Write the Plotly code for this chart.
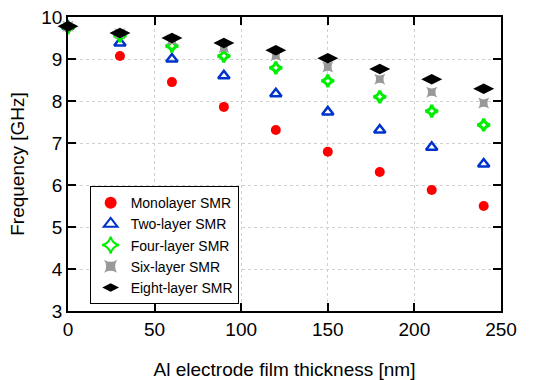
import plotly.graph_objects as go

thickness = [0, 30, 60, 90, 120, 150, 180, 210, 240]
mono = [9.75, 9.07, 8.45, 7.86, 7.31, 6.79, 6.31, 5.88, 5.50]
two = [9.78, 9.38, 9.00, 8.60, 8.17, 7.74, 7.31, 6.90, 6.50]
four = [9.75, 9.55, 9.31, 9.07, 8.79, 8.48, 8.10, 7.76, 7.43]
six = [9.78, 9.60, 9.45, 9.27, 9.08, 8.81, 8.52, 8.21, 7.95]
eight = [9.78, 9.62, 9.50, 9.38, 9.21, 9.02, 8.76, 8.52, 8.29]

series = [
    ("Monolayer SMR", mono, dict(symbol="circle", color="#ff0000", size=10, line=dict(width=0))),
    ("Two-layer SMR", two, dict(symbol="triangle-up-open", color="#0033cc", size=10, line=dict(width=2.5, color="#0033cc"))),
    ("Four-layer SMR", four, dict(symbol="star-diamond-open", color="#00ee00", size=9, line=dict(width=3, color="#00ee00"))),
    ("Six-layer SMR", six, dict(symbol="star-square", color="#999999", size=10, line=dict(width=0))),
    ("Eight-layer SMR", eight, dict(symbol="diamond-wide", color="#000000", size=15, line=dict(width=0))),
]

fig = go.Figure()
for name, vals, mk in series:
    fig.add_trace(go.Scatter(x=thickness, y=vals, mode="markers", name=name,
                             marker=mk, cliponaxis=False))

font = "Liberation Sans, Arial, sans-serif"
axis_common = dict(showline=True, linecolor="black", linewidth=1.5, mirror="ticks",
                   ticks="inside", ticklen=8, tickcolor="black", tickwidth=1.5,
                   showgrid=True, gridcolor="#d0d0d0", griddash="dot", gridwidth=1,
                   zeroline=False, automargin=False,
                   tickfont=dict(size=19, color="black", family=font))
fig.update_xaxes(range=[0, 250], dtick=50,
                 title=dict(text="Al electrode film thickness [nm]", font=dict(size=19, family=font, color="black"), standoff=24),
                 **axis_common)
fig.update_yaxes(range=[3, 10], dtick=1,
                 title=dict(text="Frequency [GHz]", font=dict(size=19, family=font, color="black"), standoff=12),
                 **axis_common)
fig.update_layout(
    width=533, height=380,
    margin=dict(l=68, r=32, t=17, b=69, autoexpand=False),
    plot_bgcolor="white", paper_bgcolor="white",
    font=dict(family=font, color="black"),
    legend=dict(x=0.05, y=0.425, xanchor="left", yanchor="top",
                bgcolor="white", bordercolor="black", borderwidth=1,
                font=dict(size=14, family=font, color="black"),
                tracegroupgap=0, itemsizing="constant"),
)
fig.write_html("out.html")
